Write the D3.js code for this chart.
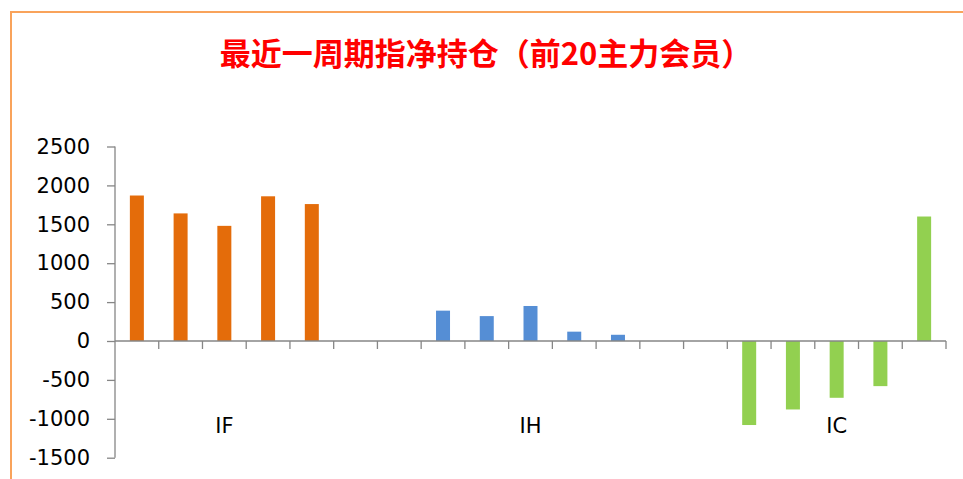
<!DOCTYPE html>
<html lang="zh">
	<head>
		<meta charset="utf-8">
		<title>最近一周期指净持仓</title>
		<script type="text/javascript" src="https://cdn.jsdelivr.net/npm/d3@7"></script>
		<style type="text/css">
			body { margin: 0; background: #fff; }
			.axis text { font-family: "DejaVu Sans", sans-serif; font-size: 21px; fill: #000; }
			.axis path, .axis line { stroke: #868686; stroke-width: 1.3; }
		</style>
	</head>
	<body>
		<script type="text/javascript">

			//Width and height
			var w = 963;
			var h = 479;

			var title = "最近一周期指净持仓（前20主力会员）";
			var groups = ["IF", "IH", "IC"];
			var ifValues = [1870, 1640, 1480, 1860, 1760];
			var ihValues = [390, 320, 450, 120, 80];
			var icValues = [-1080, -880, -730, -580, 1600];
			var colors = ["#E46C0A", "#558ED5", "#92D050"];
			var yTicks = [-1500, -1000, -500, 0, 500, 1000, 1500, 2000, 2500];

			var seriesValues = [ifValues, ihValues, icValues];

			//one slot per member, two empty slots between groups
			var slots = [];
			groups.forEach(function(g, gi) {
				if (gi > 0) {
					slots.push({ key: "gap" + gi + "a", value: null });
					slots.push({ key: "gap" + gi + "b", value: null });
				}
				seriesValues[gi].forEach(function(v, i) {
					slots.push({ key: g + (i + 1), group: g, gi: gi, value: v });
				});
			});

			var xScale = d3.scaleBand()
							.domain(slots.map(function(d) { return d.key; }))
							.range([115, 946]);

			var yScale = d3.scaleLinear()
							.domain([-1500, 2500])
							.range([457.7, 146.5]);

			var svg = d3.select("body")
						.append("svg")
						.attr("width", w)
						.attr("height", h);

			//chart border
			svg.append("rect")
			   .attr("x", 11)
			   .attr("y", 12)
			   .attr("width", w)
			   .attr("height", h)
			   .attr("fill", "none")
			   .attr("stroke", "#F9A35B")
			   .attr("stroke-width", 2);

			svg.append("text")
			   .attr("x", 486)
			   .attr("y", 65)
			   .attr("text-anchor", "middle")
			   .attr("font-family", "Noto Sans CJK SC")
			   .attr("font-weight", "bold")
			   .attr("font-size", "31px")
			   .attr("fill", "#FF0000")
			   .text(title);

			//Bars
			var barW = xScale.bandwidth() * 0.32;
			svg.selectAll("rect.bar")
			   .data(slots.filter(function(d) { return d.value !== null; }))
			   .enter()
			   .append("rect")
			   .attr("class", "bar")
			   .attr("x", function(d) {
			   		return xScale(d.key) + (xScale.bandwidth() - barW) / 2;
			   })
			   .attr("y", function(d) {
			   		return yScale(Math.max(0, d.value));
			   })
			   .attr("width", barW)
			   .attr("height", function(d) {
			   		return Math.abs(yScale(d.value) - yScale(0));
			   })
			   .attr("fill", function(d) {
			   		return colors[d.gi];
			   });

			//Y axis
			svg.append("g")
			   .attr("class", "axis")
			   .attr("transform", "translate(115,0)")
			   .call(d3.axisLeft(yScale)
			   		.tickValues(yTicks)
			   		.tickFormat(function(d) { return String(d); })
			   		.tickSize(8).tickPadding(17).tickSizeOuter(0))
			   .select(".domain").attr("d", "M0," + yScale(2500) + "V" + yScale(-1500));

			//X axis at zero with ticks between slots
			var xAxis = svg.append("g").attr("class", "axis");
			xAxis.append("line")
				 .attr("x1", 115).attr("x2", 946)
				 .attr("y1", yScale(0)).attr("y2", yScale(0));
			xAxis.selectAll("line.tick")
				 .data(slots)
				 .enter()
				 .append("line")
				 .attr("class", "tick")
				 .attr("x1", function(d) { return xScale(d.key) + xScale.bandwidth(); })
				 .attr("x2", function(d) { return xScale(d.key) + xScale.bandwidth(); })
				 .attr("y1", yScale(0))
				 .attr("y2", yScale(0) + 8);

			//Group labels, centred on each group's slots
			xAxis.selectAll("text.group")
				 .data(groups)
				 .enter()
				 .append("text")
				 .attr("class", "group")
				 .attr("text-anchor", "middle")
				 .attr("x", function(g) {
				 	var ks = slots.filter(function(d) { return d.group === g; });
				 	return (xScale(ks[0].key) + xScale(ks[ks.length - 1].key) + xScale.bandwidth()) / 2;
				 })
				 .attr("y", 433)
				 .text(function(g) { return g; });
		</script>
	</body>
</html>
